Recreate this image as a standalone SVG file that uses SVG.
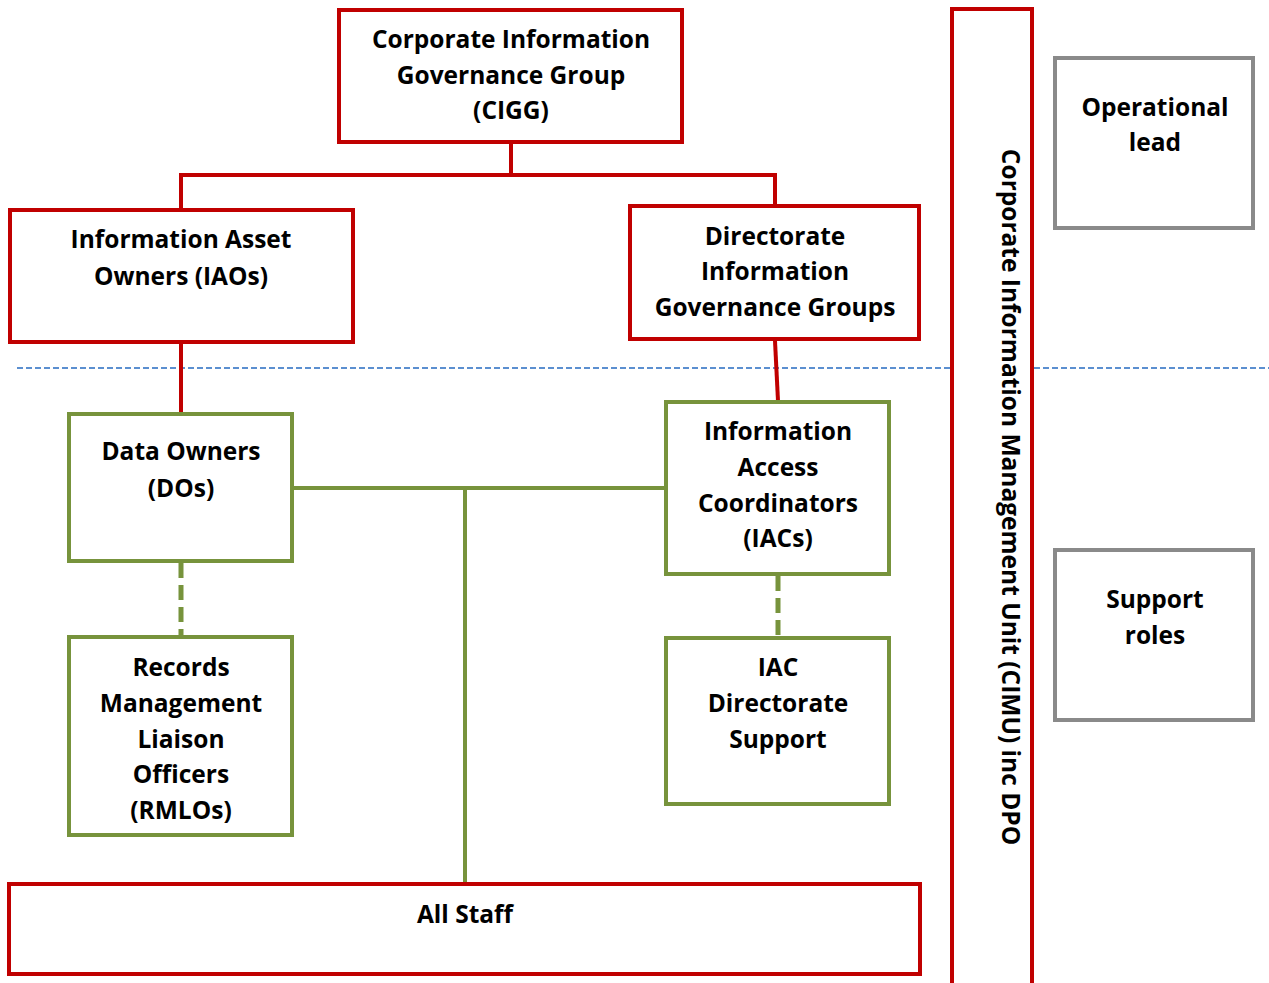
<svg xmlns="http://www.w3.org/2000/svg" width="1269" height="983" viewBox="0 0 1269 983">
<style>
text{font-family:"Open Sans",Lato,"Liberation Sans",sans-serif;font-weight:bold;font-size:24.5px;fill:#000;text-anchor:middle}
.red{fill:#fff;stroke:#c00000;stroke-width:4}
.grn{fill:#fff;stroke:#77933c;stroke-width:4}
.gry{fill:#fff;stroke:#8a8a8a;stroke-width:4}
.rl{fill:none;stroke:#c00000;stroke-width:4}
.gl{fill:none;stroke:#77933c;stroke-width:4}
.gd{fill:none;stroke:#77933c;stroke-width:5;stroke-dasharray:15 7}
</style>
<rect width="1269" height="983" fill="#fff"/>
<line x1="17" y1="368" x2="1269" y2="368" stroke="#5b8fd0" stroke-width="2" stroke-dasharray="6 3"/>
<g id="connectors">
<polyline class="rl" points="511,144 511,175 181,175 181,209"/>
<polyline class="rl" points="511,175 775,175 775,205"/>
<line class="rl" x1="181" y1="344" x2="181" y2="413"/>
<line class="rl" x1="775" y1="341" x2="778" y2="401"/>
<line class="gl" x1="294" y1="488" x2="664" y2="488"/>
<line class="gl" x1="465" y1="488" x2="465" y2="883"/>
<line class="gd" x1="181" y1="563" x2="181" y2="635"/>
<line class="gd" x1="778" y1="576" x2="778" y2="636"/>
</g>
<g id="cigg"><rect class="red" x="339" y="10" width="343" height="132"/>
<text x="511" y="48">Corporate Information</text><text x="511" y="84">Governance Group</text><text x="511" y="119">(CIGG)</text></g>
<g id="iao"><rect class="red" x="10" y="210" width="343" height="132"/>
<text x="181" y="248">Information Asset</text><text x="181" y="285">Owners (IAOs)</text></g>
<g id="digg"><rect class="red" x="630" y="206" width="289" height="133"/>
<text x="775" y="245">Directorate</text><text x="775" y="280">Information</text><text x="775" y="316">Governance Groups</text></g>
<g id="do"><rect class="grn" x="69" y="414" width="223" height="147"/>
<text x="181" y="460">Data Owners</text><text x="181" y="497">(DOs)</text></g>
<g id="iac"><rect class="grn" x="666" y="402" width="223" height="172"/>
<text x="778" y="440">Information</text><text x="778" y="476">Access</text><text x="778" y="512">Coordinators</text><text x="778" y="547">(IACs)</text></g>
<g id="rmlo"><rect class="grn" x="69" y="637" width="223" height="198"/>
<text x="181" y="676">Records</text><text x="181" y="712">Management</text><text x="181" y="748">Liaison</text><text x="181" y="783">Officers</text><text x="181" y="819">(RMLOs)</text></g>
<g id="iacds"><rect class="grn" x="666" y="638" width="223" height="166"/>
<text x="778" y="676">IAC</text><text x="778" y="712">Directorate</text><text x="778" y="748">Support</text></g>
<g id="allstaff"><rect class="red" x="9" y="884" width="911" height="90"/>
<text x="465" y="923">All Staff</text></g>
<g id="cimu"><rect class="red" x="952" y="9" width="80" height="985"/>
<text transform="translate(1002,497) rotate(90)">Corporate Information Management Unit (CIMU) inc DPO</text></g>
<g id="oplead"><rect class="gry" x="1055" y="58" width="198" height="170"/>
<text x="1155" y="116">Operational</text><text x="1155" y="151">lead</text></g>
<g id="support"><rect class="gry" x="1055" y="550" width="198" height="170"/>
<text x="1155" y="608">Support</text><text x="1155" y="644">roles</text></g>
</svg>
